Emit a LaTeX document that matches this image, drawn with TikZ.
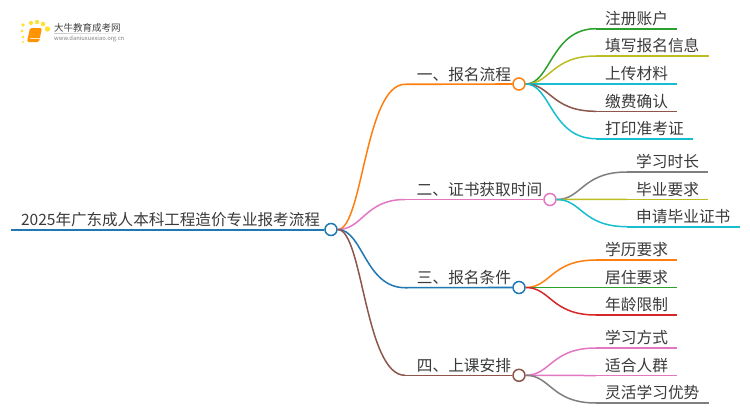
\documentclass[tikz,border=0pt]{standalone}
\usepackage{fontspec}
\setmainfont{Noto Sans CJK SC}
\definecolor{cOrange}{HTML}{FF7F0E}
\definecolor{cPink}{HTML}{E377C2}
\definecolor{cBlue}{HTML}{1F77B4}
\definecolor{cBrown}{HTML}{8C564B}
\definecolor{cGreen}{HTML}{2CA02C}
\definecolor{cOlive}{HTML}{BCBD22}
\definecolor{cCyan}{HTML}{17BECF}
\definecolor{cGray}{HTML}{7F7F7F}
\definecolor{cRed}{HTML}{D62728}
\definecolor{cText}{HTML}{3A3A3A}
\tikzset{
  x=1pt,y=-1pt,
  lbl/.style={anchor=south west,inner ysep=0pt,text height=13pt,text depth=4pt,text=cText,font=\fontsize{15.7pt}{17pt}\selectfont},
  leaf/.style={lbl,inner xsep=9pt},
  hub/.style={circle,draw=#1,fill=white,line width=1.5pt,minimum size=12pt,inner sep=0pt},
  rule/.style={draw=#1,line width=1.6pt},
  wire/.style={draw=#1,line width=1.5pt},
}
\begin{document}
\begin{tikzpicture}
\useasboundingbox (0,0) rectangle (750,410);
% logo
\fill[white] (0,0) rectangle (750,410);
\foreach \px/\py/\ps in {23/42/1.1,23/37/1.4,22/31/1.6,23/25/1.9,31/23/2.1,37/22/2.2,43/24/2.3,47.5/29/2.7}
  \fill[orange!30!yellow!80!white] (\px,\py) circle[radius=\ps];
\fill[rounded corners=1.5pt,fill=orange!85!yellow] (30,28) -- (42,28) -- (39,42) -- (27,42) -- cycle;
\draw[white!80!orange,line width=.5pt] (29.5,38.5) -- (39.5,38.5);
\node[anchor=west,inner sep=0pt,text=black!75,font=\fontsize{9.5pt}{10pt}\selectfont] (logoa) at (54,27.5) {大牛教育成考网};
\node[anchor=west,inner sep=0pt,text=black!50,font=\fontsize{5.8pt}{6pt}\selectfont] (logob) at (54,38.5) {www.daniuxuexiao.org.cn};
\shade[left color=black!22,right color=white] (54,33) rectangle (132,33.6);
% root
\node[lbl,inner xsep=0pt,minimum width=313pt,align=left,font=\fontsize{15.55pt}{17pt}\selectfont] (root) at (11,229.5) {\hspace{5.5pt}2025年广东成人本科工程造价专业报考流程};
\node[hub=cBlue] (hub0) at (331,229.5) {};
% branches
\node[lbl,inner xsep=0pt,minimum width=107pt] (b1) at (405,84.3) {\hspace{10.5pt}一、报名流程};
\node[lbl,inner xsep=0pt,minimum width=138pt] (b2) at (405,199.5) {\hspace{10.5pt}二、证书获取时间};
\node[lbl,inner xsep=0pt,minimum width=107pt] (b3) at (405,287.7) {\hspace{10.5pt}三、报名条件};
\node[lbl,inner xsep=0pt,minimum width=107pt] (b4) at (405,375.3) {\hspace{10.5pt}四、上课安排};
\node[hub=cOrange] (hub1) at (519,84) {};
\node[hub=cPink] (hub2) at (550,199.5) {};
\node[hub=cBlue] (hub3) at (519,287.5) {};
\node[hub=cBrown] (hub4) at (519,375.3) {};
% leaves
\node[leaf] (l11) at (596,28.7) {注册账户};
\node[leaf] (l12) at (596,56) {填写报名信息};
\node[leaf] (l13) at (596,84) {上传材料};
\node[leaf] (l14) at (596,111.3) {缴费确认};
\node[leaf] (l15) at (596,138.7) {打印准考证};
\node[leaf] (l21) at (627,172) {学习时长};
\node[leaf] (l22) at (627,199.3) {毕业要求};
\node[leaf] (l23) at (627,226.7) {申请毕业证书};
\node[leaf] (l31) at (596,260) {学历要求};
\node[leaf] (l32) at (596,287.5) {居住要求};
\node[leaf] (l33) at (596,315) {年龄限制};
\node[leaf] (l41) at (596,348) {学习方式};
\node[leaf] (l42) at (596,375.5) {适合人群};
\node[leaf] (l43) at (596,403) {灵活学习优势};
% rules under text
\draw[rule=cBlue,line width=2pt] (root.south west) -- (hub0.west);
\draw[rule=cOrange] (b1.south west) -- (hub1.west);
\draw[rule=cPink] (b2.south west) -- (hub2.west);
\draw[rule=cBlue] (b3.south west) -- (hub3.west);
\draw[rule=cBrown] (b4.south west) -- (hub4.west);
\foreach \n/\c in {l11/cGreen,l12/cOlive,l13/cCyan,l14/cBrown,l15/cCyan,l21/cGray,l22/cOlive,l23/cCyan,l31/cOrange,l32/cGreen,l33/cRed,l41/cPink,l42/cPink,l43/cGray}
  \draw[rule=\c] (\n.south west) -- (\n.south east);
% root connectors
\draw[wire=cOrange] (hub0.east) .. controls +(25,0) and +(-40,0) .. (b1.south west);
\draw[wire=cPink] (hub0.east) .. controls +(25,0) and +(-40,0) .. (b2.south west);
\draw[wire=cBlue] (hub0.east) .. controls +(25,0) and +(-40,0) .. (b3.south west);
\draw[wire=cBrown] (hub0.east) .. controls +(25,0) and +(-40,0) .. (b4.south west);
% branch connectors
\foreach \n/\c in {l11/cGreen,l12/cOlive,l13/cCyan,l14/cBrown,l15/cCyan}
  \draw[wire=\c] (hub1.east) .. controls +(25,0) and +(-45,0) .. (\n.south west);
\foreach \n/\c in {l21/cGray,l22/cOlive,l23/cCyan}
  \draw[wire=\c] (hub2.east) .. controls +(25,0) and +(-45,0) .. (\n.south west);
\foreach \n/\c in {l31/cOrange,l32/cGreen,l33/cRed}
  \draw[wire=\c] (hub3.east) .. controls +(25,0) and +(-45,0) .. (\n.south west);
\foreach \n/\c in {l41/cPink,l42/cPink,l43/cGray}
  \draw[wire=\c] (hub4.east) .. controls +(25,0) and +(-45,0) .. (\n.south west);
\end{tikzpicture}
\end{document}
